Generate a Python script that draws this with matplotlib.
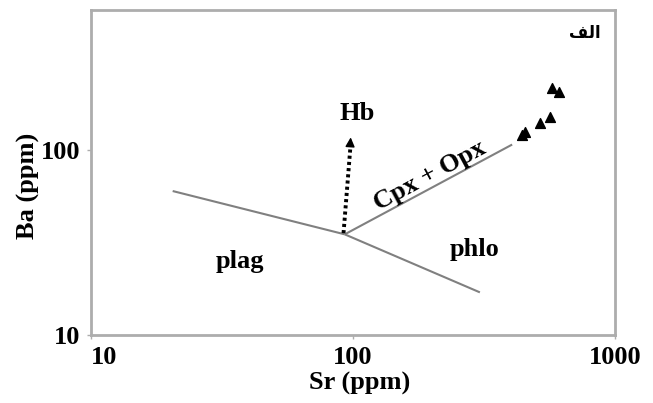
import numpy as np
import matplotlib
matplotlib.use("Agg")
import matplotlib.pyplot as plt

# ---- data ----
junction = (93, 35)
plag_end = (20.5, 60)
phlo_end = (305, 17)
cpx_end = (405, 107)
hb_tip = (98, 117)

sample_sr = [575, 611, 565, 518, 453, 441]
sample_ba = [216, 206, 151, 140, 125, 120]

x_ticks = [10, 100, 1000]
y_ticks = [10, 100]
x_label = "Sr (ppm)"
y_label = "Ba (ppm)"
panel_label = "\ufed2\ufedf\ufe8d"  # "الف" in shaped presentation forms (visual order)

region_labels = ["plag", "phlo", "Hb", "Cpx + Opx"]
region_pos = [(37, 25), (292, 29), (103.5, 158), (197, 73)]

# ---- figure ----
plt.rcParams['font.family'] = ['Liberation Serif', 'DejaVu Serif']
fig = plt.figure(figsize=(6.53, 4.03), dpi=100)
ax = fig.add_axes([91/653, 1-335/403, (615-91)/653, (335-10)/403])
ax.set_xscale('log')
ax.set_yscale('log')
ax.set_xlim(10, 1000)
ax.set_ylim(10, 571)

frame_c = '#adadad'
for s in ax.spines.values():
    s.set_color(frame_c)
    s.set_linewidth(2)

FS = 19
ax.set_xticks(x_ticks)
ax.set_xticklabels([str(v) for v in x_ticks])
ax.set_yticks(y_ticks)
ax.set_yticklabels([str(v) for v in y_ticks])
ax.minorticks_off()
ax.tick_params(axis='both', which='major', length=3, color=frame_c, width=1,
               labelsize=FS, pad=5)
for lab in ax.get_xticklabels() + ax.get_yticklabels():
    lab.set_fontweight('bold')
ax.get_xticklabels()[0].set_horizontalalignment('left')

ax.set_xlabel(x_label, fontsize=FS, fontweight='bold')
ax.set_ylabel(y_label, fontsize=FS, fontweight='bold')
ax.xaxis.set_label_coords(0.513, -0.115)
ax.yaxis.set_label_coords(-0.098, 0.46)

line_c = '#808080'
for end in (plag_end, phlo_end, cpx_end):
    ax.plot([junction[0], end[0]], [junction[1], end[1]], color=line_c, lw=1.5,
            solid_capstyle='butt')

# Hb dotted arrow
ax.plot([junction[0] - 1, hb_tip[0]], [junction[1] + 0.5, hb_tip[1] * 0.93],
        color='black', lw=2.8, ls=(0, (0.8, 0.8)))
ax.annotate('', xy=hb_tip, xytext=(hb_tip[0] * 0.995, hb_tip[1] * 0.9),
            arrowprops=dict(arrowstyle='-|>', color='black', lw=1,
                            mutation_scale=14, shrinkA=0, shrinkB=0))

ax.scatter(sample_sr, sample_ba, marker='^', s=50, color='black', zorder=5)

# rotation of Cpx+Opx label following line
p0 = ax.transData.transform(junction)
p1 = ax.transData.transform(cpx_end)
ang = np.degrees(np.arctan2(p1[1] - p0[1], p1[0] - p0[0]))

for lab, pos in zip(region_labels, region_pos):
    rot = ang if lab.startswith('Cpx') else 0
    ax.text(pos[0], pos[1], lab, fontsize=FS, fontweight='bold', ha='center',
            va='center', rotation=rot, rotation_mode='anchor')

ax.text(0.943, 0.93, panel_label, transform=ax.transAxes, fontsize=12,
        fontweight='bold', family=['DejaVu Sans'], ha='center', va='center')

fig.savefig('out.png', dpi=100)
